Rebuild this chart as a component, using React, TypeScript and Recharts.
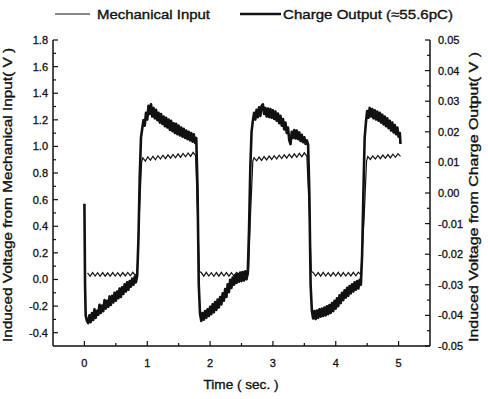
import { Line, LineChart, XAxis, YAxis } from "recharts"

// time (s), induced voltage from mechanical input (V, left axis)
const mechanicalInput: [number, number][] = [
  [0.05, 0.05], [0.09, 0.024], [0.13, 0.052], [0.17, 0.026], [0.21, 0.051], [0.25, 0.024],
  [0.29, 0.052], [0.33, 0.025], [0.37, 0.05], [0.41, 0.024], [0.45, 0.052], [0.49, 0.026],
  [0.53, 0.051], [0.57, 0.025], [0.61, 0.052], [0.65, 0.027], [0.69, 0.053], [0.73, 0.028],
  [0.77, 0.054], [0.81, 0.03], [0.84, 0.05],
  [0.87, 0.45], [0.91, 0.88],
  [0.93, 0.915], [0.97, 0.89], [1.01, 0.922], [1.05, 0.896], [1.09, 0.926], [1.13, 0.9],
  [1.17, 0.93], [1.21, 0.905], [1.25, 0.934], [1.29, 0.908], [1.33, 0.937], [1.37, 0.912],
  [1.41, 0.94], [1.45, 0.915], [1.49, 0.944], [1.53, 0.918], [1.57, 0.947], [1.61, 0.922],
  [1.65, 0.951], [1.69, 0.925], [1.73, 0.955], [1.77, 0.93],
  [1.8, 0.5], [1.83, 0.06],
  [1.86, 0.052], [1.9, 0.025], [1.94, 0.053], [1.98, 0.026], [2.02, 0.051], [2.06, 0.024],
  [2.1, 0.052], [2.14, 0.025], [2.18, 0.053], [2.22, 0.026], [2.26, 0.052], [2.3, 0.025],
  [2.34, 0.051], [2.38, 0.026], [2.42, 0.053], [2.46, 0.027], [2.5, 0.054], [2.54, 0.028],
  [2.58, 0.055], [2.61, 0.04],
  [2.64, 0.45], [2.68, 0.89],
  [2.7, 0.915], [2.74, 0.892], [2.78, 0.92], [2.82, 0.895], [2.86, 0.924], [2.9, 0.899],
  [2.94, 0.927], [2.98, 0.902], [3.02, 0.93], [3.06, 0.906], [3.1, 0.934], [3.14, 0.909],
  [3.18, 0.937], [3.22, 0.912], [3.26, 0.941], [3.3, 0.916], [3.34, 0.944], [3.38, 0.919],
  [3.42, 0.948], [3.46, 0.923], [3.5, 0.952], [3.54, 0.928],
  [3.58, 0.5], [3.61, 0.06],
  [3.64, 0.053], [3.68, 0.026], [3.72, 0.052], [3.76, 0.025], [3.8, 0.053], [3.84, 0.026],
  [3.88, 0.051], [3.92, 0.025], [3.96, 0.052], [4.0, 0.026], [4.04, 0.053], [4.08, 0.025],
  [4.12, 0.052], [4.16, 0.026], [4.2, 0.053], [4.24, 0.027], [4.28, 0.054], [4.32, 0.028],
  [4.36, 0.055], [4.4, 0.035],
  [4.45, 0.45], [4.49, 0.89],
  [4.51, 0.925], [4.55, 0.902], [4.59, 0.928], [4.63, 0.905], [4.67, 0.932], [4.71, 0.908],
  [4.75, 0.935], [4.79, 0.911], [4.83, 0.939], [4.87, 0.914], [4.91, 0.942], [4.95, 0.918],
  [4.99, 0.946], [5.03, 0.925],
]

// time (s), induced voltage from charge output (V, right axis)
const chargeOutput: [number, number][] = [
  [0.0, -0.0035], [0.01, -0.03], [0.02, -0.04], [0.04, -0.0418], [0.06, -0.0425], [0.08, -0.04],
  [0.1, -0.0422], [0.12, -0.0392], [0.14, -0.0415], [0.16, -0.038], [0.18, -0.0408], [0.2, -0.0385],
  [0.22, -0.0398], [0.24, -0.0365], [0.26, -0.0392], [0.28, -0.0368], [0.3, -0.0386], [0.32, -0.035],
  [0.34, -0.0378], [0.36, -0.0352], [0.38, -0.0372], [0.4, -0.0338], [0.42, -0.0366], [0.44, -0.0336],
  [0.46, -0.0358], [0.48, -0.0326], [0.5, -0.0352], [0.52, -0.0322], [0.54, -0.0344], [0.56, -0.0312],
  [0.58, -0.034], [0.6, -0.0308], [0.62, -0.033], [0.64, -0.0298], [0.66, -0.0322], [0.68, -0.0292],
  [0.7, -0.0316], [0.72, -0.0288], [0.74, -0.0306], [0.76, -0.028], [0.78, -0.03], [0.8, -0.0274],
  [0.82, -0.0292], [0.84, -0.027], [0.86, -0.015], [0.88, 0.005], [0.9, 0.018],
  [0.92, 0.021], [0.94, 0.0238], [0.96, 0.022], [0.98, 0.0262], [1.0, 0.024], [1.02, 0.0285],
  [1.04, 0.0258], [1.06, 0.029], [1.08, 0.025], [1.1, 0.0278], [1.12, 0.0244], [1.14, 0.0272],
  [1.16, 0.0238], [1.18, 0.0262], [1.2, 0.023], [1.22, 0.0258], [1.24, 0.0226], [1.26, 0.025],
  [1.28, 0.0218], [1.3, 0.0246], [1.32, 0.0214], [1.34, 0.024], [1.36, 0.0206], [1.38, 0.0236],
  [1.4, 0.0202], [1.42, 0.0228], [1.44, 0.0196], [1.46, 0.0226], [1.48, 0.0192], [1.5, 0.022],
  [1.52, 0.0188], [1.54, 0.0214], [1.56, 0.0184], [1.58, 0.021], [1.6, 0.018], [1.62, 0.0204],
  [1.64, 0.0176], [1.66, 0.02], [1.68, 0.0172], [1.7, 0.0196], [1.72, 0.0168], [1.74, 0.0192],
  [1.76, 0.0164], [1.78, 0.018], [1.8, 0.002], [1.82, -0.03],
  [1.84, -0.0395], [1.86, -0.0418], [1.88, -0.0392], [1.9, -0.0414], [1.92, -0.0386], [1.94, -0.0408],
  [1.96, -0.038], [1.98, -0.0402], [2.0, -0.0372], [2.02, -0.0396], [2.04, -0.0364], [2.06, -0.039],
  [2.08, -0.0356], [2.1, -0.0382], [2.12, -0.0348], [2.14, -0.0374], [2.16, -0.034], [2.18, -0.0364],
  [2.2, -0.0328], [2.22, -0.0352], [2.24, -0.0314], [2.26, -0.034], [2.28, -0.0298], [2.3, -0.0324],
  [2.32, -0.0284], [2.34, -0.031], [2.36, -0.0276], [2.38, -0.03], [2.4, -0.0268], [2.42, -0.0294],
  [2.44, -0.0264], [2.46, -0.029], [2.48, -0.026], [2.5, -0.0288], [2.52, -0.0258], [2.54, -0.0286],
  [2.56, -0.0256], [2.58, -0.0282], [2.6, -0.026], [2.62, -0.012], [2.64, 0.008], [2.66, 0.02],
  [2.68, 0.0235], [2.7, 0.0262], [2.72, 0.024], [2.74, 0.0272], [2.76, 0.0248], [2.78, 0.028],
  [2.8, 0.0252], [2.82, 0.0285], [2.84, 0.029], [2.86, 0.0258], [2.88, 0.0278], [2.9, 0.025],
  [2.92, 0.0276], [2.94, 0.0248], [2.96, 0.0274], [2.98, 0.0246], [3.0, 0.027], [3.02, 0.0242],
  [3.04, 0.0266], [3.06, 0.0236], [3.08, 0.026], [3.1, 0.0228], [3.12, 0.0252], [3.14, 0.022],
  [3.16, 0.0242], [3.18, 0.0208], [3.2, 0.023], [3.22, 0.0196], [3.24, 0.0214], [3.26, 0.0172],
  [3.28, 0.016], [3.3, 0.02], [3.32, 0.018], [3.34, 0.0206], [3.36, 0.0178], [3.38, 0.0204],
  [3.4, 0.0176], [3.42, 0.0198], [3.44, 0.017], [3.46, 0.019], [3.48, 0.0166], [3.5, 0.0182],
  [3.52, 0.016], [3.54, 0.0172], [3.56, 0.0158], [3.58, 0.0], [3.6, -0.03],
  [3.62, -0.0385], [3.64, -0.041], [3.66, -0.0386], [3.68, -0.0412], [3.7, -0.0384], [3.72, -0.0408],
  [3.74, -0.038], [3.76, -0.0404], [3.78, -0.0378], [3.8, -0.0402], [3.82, -0.0374], [3.84, -0.04],
  [3.86, -0.037], [3.88, -0.0396], [3.9, -0.0366], [3.92, -0.0392], [3.94, -0.036], [3.96, -0.0386],
  [3.98, -0.0352], [4.0, -0.0378], [4.02, -0.0344], [4.04, -0.037], [4.06, -0.0334], [4.08, -0.036],
  [4.1, -0.0326], [4.12, -0.035], [4.14, -0.0318], [4.16, -0.0342], [4.18, -0.031], [4.2, -0.0336],
  [4.22, -0.0304], [4.24, -0.0328], [4.26, -0.0298], [4.28, -0.0322], [4.3, -0.0292], [4.32, -0.0316],
  [4.34, -0.0288], [4.36, -0.0312], [4.38, -0.0284], [4.4, -0.03], [4.42, -0.02], [4.44, 0.0],
  [4.46, 0.018], [4.48, 0.023], [4.5, 0.0268], [4.52, 0.0246], [4.54, 0.0278], [4.56, 0.025],
  [4.58, 0.0274], [4.6, 0.0244], [4.62, 0.027], [4.64, 0.024], [4.66, 0.0266], [4.68, 0.0236],
  [4.7, 0.0262], [4.72, 0.023], [4.74, 0.0256], [4.76, 0.0224], [4.78, 0.025], [4.8, 0.0218],
  [4.82, 0.0244], [4.84, 0.0212], [4.86, 0.0236], [4.88, 0.0204], [4.9, 0.023], [4.92, 0.0198],
  [4.94, 0.0222], [4.96, 0.0192], [4.98, 0.0214], [5.0, 0.0184], [5.02, 0.0196], [5.03, 0.016],
]

const timeTicks = [0, 0.5, 1, 1.5, 2, 2.5, 3, 3.5, 4, 4.5, 5]
const timeLabels = [0, 1, 2, 3, 4, 5]
const inputTicks = [
  -0.4, -0.3, -0.2, -0.1, 0, 0.1, 0.2, 0.3, 0.4, 0.5, 0.6, 0.7, 0.8, 0.9, 1.0, 1.1, 1.2, 1.3, 1.4, 1.5,
  1.6, 1.7, 1.8,
]
const inputLabels = [-0.4, -0.2, 0, 0.2, 0.4, 0.6, 0.8, 1.0, 1.2, 1.4, 1.6, 1.8]
const outputTicks = [
  -0.05, -0.045, -0.04, -0.035, -0.03, -0.025, -0.02, -0.015, -0.01, -0.005, 0, 0.005, 0.01, 0.015,
  0.02, 0.025, 0.03, 0.035, 0.04, 0.045, 0.05,
]
const outputLabels = [-0.05, -0.04, -0.03, -0.02, -0.01, 0, 0.01, 0.02, 0.03, 0.04, 0.05]

const W = 488
const H = 399
const PLOT_LEFT = 53
const PLOT_RIGHT = 430
const PLOT_TOP = 40
const PLOT_BOTTOM = 346
const FONT = "'Liberation Sans', Arial, sans-serif"
const INK = "#111"

const mechData = mechanicalInput.map(([t, v]) => ({ t, v }))
const chargeData = chargeOutput.map(([t, v]) => ({ t, v }))

const isIn = (list: number[], v: number) => list.some((l) => Math.abs(l - v) < 1e-6)

const labelStyle = {
  fontSize: 11,
  fontFamily: FONT,
  fill: INK,
  stroke: INK,
  strokeWidth: 0.3,
}

function BottomTick(props: any) {
  const { x, payload } = props
  const major = isIn(timeLabels, payload.value)
  return (
    <g>
      <line x1={x} x2={x} y1={PLOT_BOTTOM} y2={PLOT_BOTTOM - (major ? 5 : 3)} stroke={INK} strokeWidth={1.2} />
      {major ? (
        <text x={x} y={PLOT_BOTTOM + 21} textAnchor="middle" {...labelStyle}>
          {payload.value}
        </text>
      ) : null}
    </g>
  )
}

function TopTick(props: any) {
  const { x, payload } = props
  const major = isIn(timeLabels, payload.value)
  return <line x1={x} x2={x} y1={PLOT_TOP} y2={PLOT_TOP + (major ? 5 : 3)} stroke={INK} strokeWidth={1.2} />
}

function LeftTick(props: any) {
  const { y, payload } = props
  const major = isIn(inputLabels, payload.value)
  return (
    <g>
      <line x1={PLOT_LEFT} x2={PLOT_LEFT + (major ? 5 : 3)} y1={y} y2={y} stroke={INK} strokeWidth={1.2} />
      {major ? (
        <text x={PLOT_LEFT - 5} y={y + 4} textAnchor="end" {...labelStyle}>
          {payload.value.toFixed(1)}
        </text>
      ) : null}
    </g>
  )
}

function RightTick(props: any) {
  const { y, payload } = props
  const major = isIn(outputLabels, payload.value)
  return (
    <g>
      <line x1={PLOT_RIGHT} x2={PLOT_RIGHT - (major ? 5 : 3)} y1={y} y2={y} stroke={INK} strokeWidth={1.2} />
      {major ? (
        <text x={PLOT_RIGHT + 8} y={y + 4} textAnchor="start" {...labelStyle}>
          {payload.value.toFixed(2)}
        </text>
      ) : null}
    </g>
  )
}

function Overlay() {
  return (
    <svg width={W} height={H} style={{ position: "absolute", left: 0, top: 0, pointerEvents: "none" }}>
      <g fontFamily={FONT} fill={INK} stroke={INK} strokeWidth={0.35} fontSize={13}>
        <line x1={55} x2={90} y1={14} y2={14} stroke={INK} strokeWidth={1} />
        <text x={97} y={19} textLength={113} lengthAdjust="spacingAndGlyphs">
          Mechanical Input
        </text>
        <line x1={240} x2={281} y1={14} y2={14} stroke={INK} strokeWidth={2.5} />
        <text x={283} y={19} textLength={170} lengthAdjust="spacingAndGlyphs">
          Charge Output (≈55.6pC)
        </text>
        <text x={241} y={389} textAnchor="middle" textLength={75} lengthAdjust="spacingAndGlyphs">
          Time ( sec. )
        </text>
        <text
          transform="translate(12,195) rotate(-90)"
          textAnchor="middle"
          textLength={294}
          lengthAdjust="spacingAndGlyphs"
        >
          Induced Voltage from Mechanical Input( V )
        </text>
        <text
          transform="translate(478,197) rotate(-90)"
          textAnchor="middle"
          textLength={290}
          lengthAdjust="spacingAndGlyphs"
        >
          Induced Voltage from Charge Output( V )
        </text>
      </g>
    </svg>
  )
}

export default function App() {
  return (
    <div style={{ position: "absolute", left: 0, top: 0, width: W, height: H, background: "#fff" }}>
      <LineChart width={W} height={H} margin={{ top: PLOT_TOP, right: 0, bottom: 0, left: 0 }}>
        <XAxis
          xAxisId="bottom"
          dataKey="t"
          type="number"
          domain={[-0.5, 5.5]}
          ticks={timeTicks}
          interval={0}
          height={H - PLOT_BOTTOM}
          axisLine={{ stroke: INK, strokeWidth: 1.5 }}
          tickLine={false}
          tick={<BottomTick />}
          allowDataOverflow
        />
        <XAxis
          xAxisId="top"
          orientation="top"
          dataKey="t"
          type="number"
          domain={[-0.5, 5.5]}
          ticks={timeTicks}
          interval={0}
          height={0}
          axisLine={{ stroke: INK, strokeWidth: 1.5 }}
          tickLine={false}
          tick={<TopTick />}
          allowDataOverflow
        />
        <YAxis
          yAxisId="input"
          type="number"
          domain={[-0.5, 1.8]}
          ticks={inputTicks}
          interval={0}
          width={PLOT_LEFT}
          axisLine={{ stroke: INK, strokeWidth: 1.5 }}
          tickLine={false}
          tick={<LeftTick />}
          allowDataOverflow
        />
        <YAxis
          yAxisId="output"
          orientation="right"
          type="number"
          domain={[-0.05, 0.05]}
          ticks={outputTicks}
          interval={0}
          width={W - PLOT_RIGHT}
          axisLine={{ stroke: INK, strokeWidth: 1.5 }}
          tickLine={false}
          tick={<RightTick />}
          allowDataOverflow
        />
        <Line
          data={mechData}
          xAxisId="bottom"
          yAxisId="input"
          dataKey="v"
          name="Mechanical Input"
          stroke={INK}
          strokeWidth={1.2}
          dot={false}
          isAnimationActive={false}
        />
        <Line
          data={chargeData}
          xAxisId="bottom"
          yAxisId="output"
          dataKey="v"
          name="Charge Output"
          stroke={INK}
          strokeWidth={2.6}
          strokeLinejoin="round"
          dot={false}
          isAnimationActive={false}
        />
      </LineChart>
      <Overlay />
    </div>
  )
}
